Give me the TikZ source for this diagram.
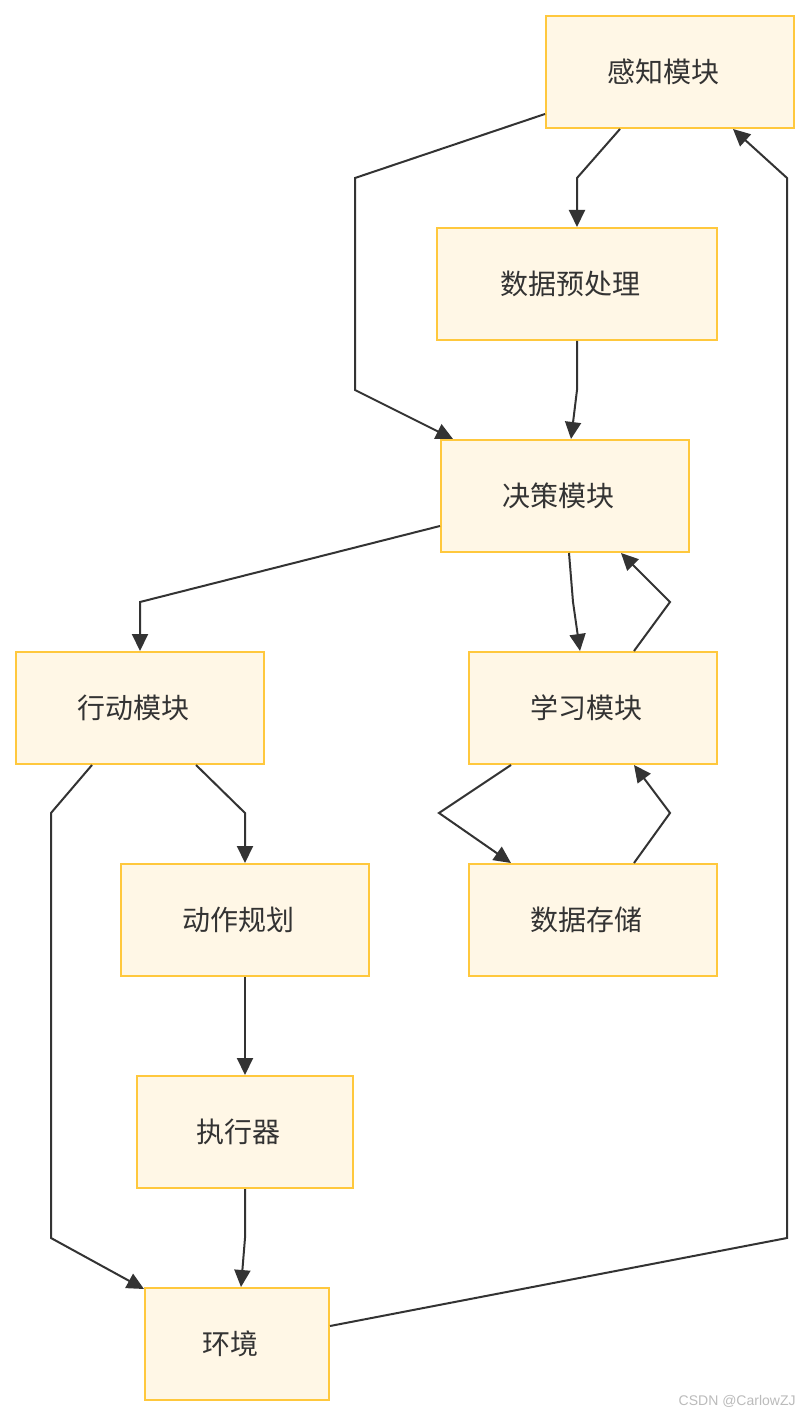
\documentclass[tikz,border=0pt]{standalone}
\usepackage{fontspec}
\newfontfamily\cjk{Noto Sans CJK SC}
\setsansfont{Liberation Sans}
\usetikzlibrary{arrows.meta}
\definecolor{boxfill}{HTML}{FFF7E6}
\definecolor{boxline}{HTML}{FFC83D}
\definecolor{ink}{HTML}{333333}
\definecolor{wm}{HTML}{BBBBBB}
\newcommand{\lbl}[1]{\kern-7pt#1}
\begin{document}
\begin{tikzpicture}[x=0.5pt,y=-0.5pt,
  box/.style={draw=boxline,fill=boxfill,line width=1pt,inner sep=0pt,
    minimum height=56pt,font=\cjk\fontsize{14}{16}\selectfont,text=ink},
  link/.style={draw=ink,line width=1pt,-{Triangle[length=8.5pt,width=8pt]}}]
\useasboundingbox (0,0) rectangle (810,1416);
\fill[white] (0,0) rectangle (810,1416);
\node[box,minimum width=124pt] (gz) at (670,72) {\lbl{感知模块}};
\node[box,minimum width=140pt] (sj) at (577,284) {\lbl{数据预处理}};
\node[box,minimum width=124pt] (jc) at (565,496) {\lbl{决策模块}};
\node[box,minimum width=124pt] (xd) at (140,708) {\lbl{行动模块}};
\node[box,minimum width=124pt] (xx) at (593,708) {\lbl{学习模块}};
\node[box,minimum width=124pt] (dz) at (245,920) {\lbl{动作规划}};
\node[box,minimum width=124pt] (sc) at (593,920) {\lbl{数据存储}};
\node[box,minimum width=108pt] (zx) at (245,1132) {\lbl{执行器}};
\node[box,minimum width=92pt] (hj) at (237,1344) {\lbl{环境}};
\node[anchor=east,text=wm,font=\sffamily\fontsize{7}{8}\selectfont,inner sep=0pt] (wmk) at (796,1401) {CSDN @CarlowZJ};
% edges
\draw[link] ([xshift=-25pt]gz.south) -- (577,178) -- (sj.north);
\draw[link] ([yshift=-21pt]gz.west) -- (355,178) -- (355,390) -- ([xshift=-56pt]jc.north);
\draw[link] (sj.south) -- (577,390) -- ([xshift=3pt]jc.north);
\draw[link] ([yshift=-15pt]jc.west) -- (140,602) -- (xd.north);
\draw[link] ([xshift=2pt]jc.south) -- (573,602) -- ([xshift=-6.5pt]xx.north);
\draw[link] ([xshift=20.5pt]xx.north) -- (670,602) -- ([xshift=28pt]jc.south);
\draw[link] ([xshift=-41pt]xx.south) -- (439,813) -- ([xshift=-41pt]sc.north);
\draw[link] ([xshift=20.5pt]sc.north) -- (670,813) -- ([xshift=20.5pt]xx.south);
\draw[link] ([xshift=28pt]xd.south) -- (245,813) -- (dz.north);
\draw[link] ([xshift=-24pt]xd.south) -- (51,813) -- (51,1238) -- ([yshift=-1pt]hj.north west);
\draw[link] (dz.south) -- (zx.north);
\draw[link] (zx.south) -- (245,1238) -- ([xshift=2pt]hj.north);
\draw[link] ([yshift=9pt]hj.east) -- (787,1238) -- (787,178) -- ([xshift=31.5pt]gz.south);
\end{tikzpicture}
\end{document}
